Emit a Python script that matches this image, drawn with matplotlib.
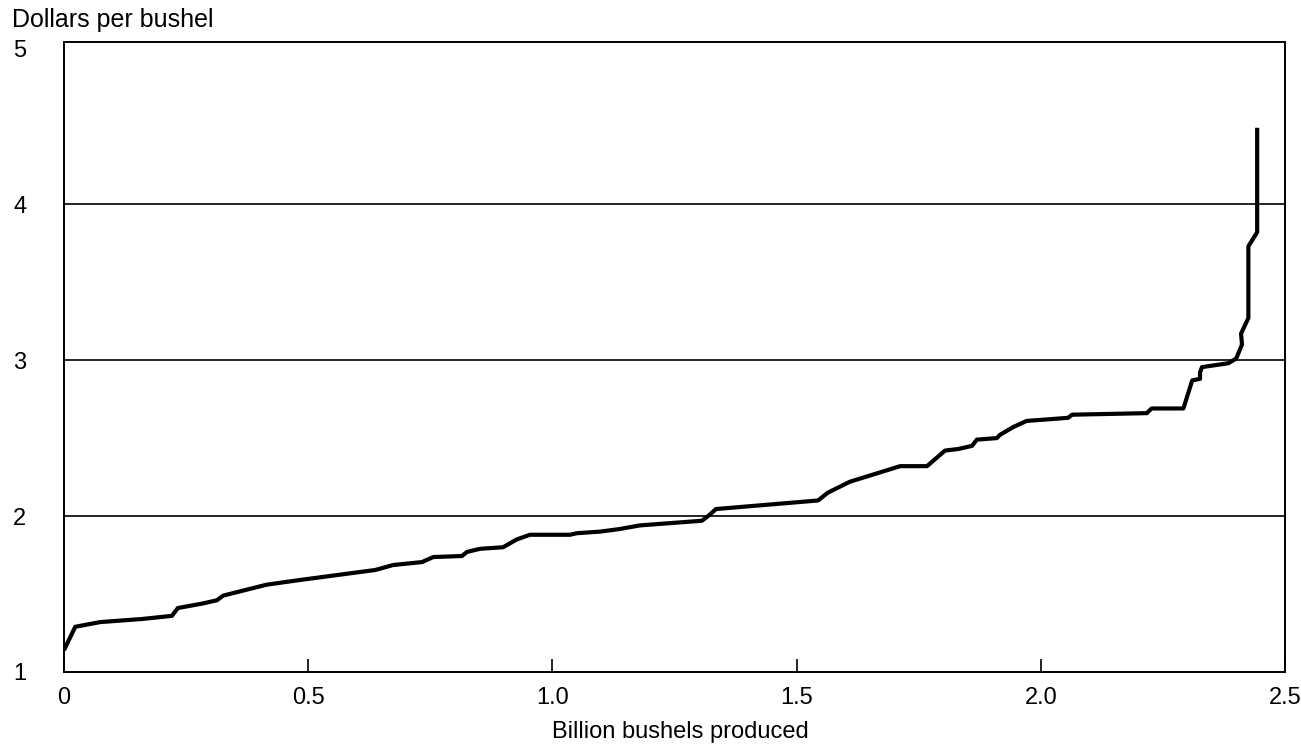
import matplotlib
matplotlib.use("Agg")
import matplotlib.pyplot as plt

plt.rcParams['font.family'] = ['Liberation Sans', 'DejaVu Sans']

# Cumulative production (billion bushels) and cost per bushel (dollars)
quantity = [0.000, 0.023, 0.074, 0.160, 0.221, 0.233, 0.285, 0.313, 0.326, 0.415,
            0.483, 0.637, 0.674, 0.733, 0.756, 0.815, 0.825, 0.852, 0.899, 0.927,
            0.954, 1.036, 1.050, 1.097, 1.138, 1.179, 1.306, 1.319, 1.335, 1.544,
            1.564, 1.609, 1.712, 1.767, 1.804, 1.831, 1.859, 1.869, 1.910, 1.916,
            1.943, 1.971, 2.056, 2.064, 2.217, 2.227, 2.292, 2.310, 2.326, 2.326,
            2.330, 2.384, 2.400, 2.412, 2.410, 2.425, 2.425, 2.443, 2.443]
price = [1.14, 1.29, 1.32, 1.34, 1.36, 1.41, 1.44, 1.46, 1.49, 1.56,
         1.59, 1.654, 1.686, 1.705, 1.737, 1.744, 1.77, 1.79, 1.80, 1.85,
         1.88, 1.88, 1.89, 1.90, 1.917, 1.94, 1.97, 2.00, 2.045, 2.10,
         2.15, 2.22, 2.32, 2.32, 2.42, 2.43, 2.45, 2.49, 2.50, 2.52,
         2.57, 2.61, 2.63, 2.65, 2.66, 2.69, 2.69, 2.87, 2.88, 2.92,
         2.955, 2.98, 3.01, 3.10, 3.17, 3.27, 3.73, 3.82, 4.49]

x_ticks = [0, 0.5, 1.0, 1.5, 2.0, 2.5]
x_tick_labels = ["0", "0.5", "1.0", "1.5", "2.0", "2.5"]
y_ticks = [1, 2, 3, 4, 5]
y_tick_labels = ["1", "2", "3", "4", "5"]
grid_levels = [2, 3, 4]

W, H = 1301, 746
fig = plt.figure(figsize=(W / 100, H / 100), dpi=100)
ax = fig.add_axes([64 / W, 1 - 672 / H, (1285 - 64) / W, (672 - 42) / H])

for g in grid_levels:
    ax.axhline(g, color="black", lw=1.2, zorder=1)

ax.plot(quantity, price, color="black", lw=3.0, solid_joinstyle="round",
        solid_capstyle="butt", zorder=3)

ax.set_xlim(0, 2.5)
ax.set_ylim(1, 5.04)

ax.set_xticks(x_ticks)
ax.set_xticklabels(x_tick_labels, fontsize=17)
ax.set_yticks(y_ticks)
ax.set_yticklabels(y_tick_labels, fontsize=17)

ax.tick_params(axis="x", direction="in", length=9.5, width=1.2, pad=11,
               colors="black")
ax.tick_params(axis="y", length=0, pad=27, colors="black")

for sp in ax.spines.values():
    sp.set_color("black")
    sp.set_linewidth(1.4)

fig.text(12 / W, 1 - 27 / H, "Dollars per bushel", fontsize=18,
         ha="left", va="baseline")
fig.text(680 / W, 1 - 738 / H, "Billion bushels produced", fontsize=17,
         ha="center", va="baseline")

fig.savefig("out.png", dpi=100)
